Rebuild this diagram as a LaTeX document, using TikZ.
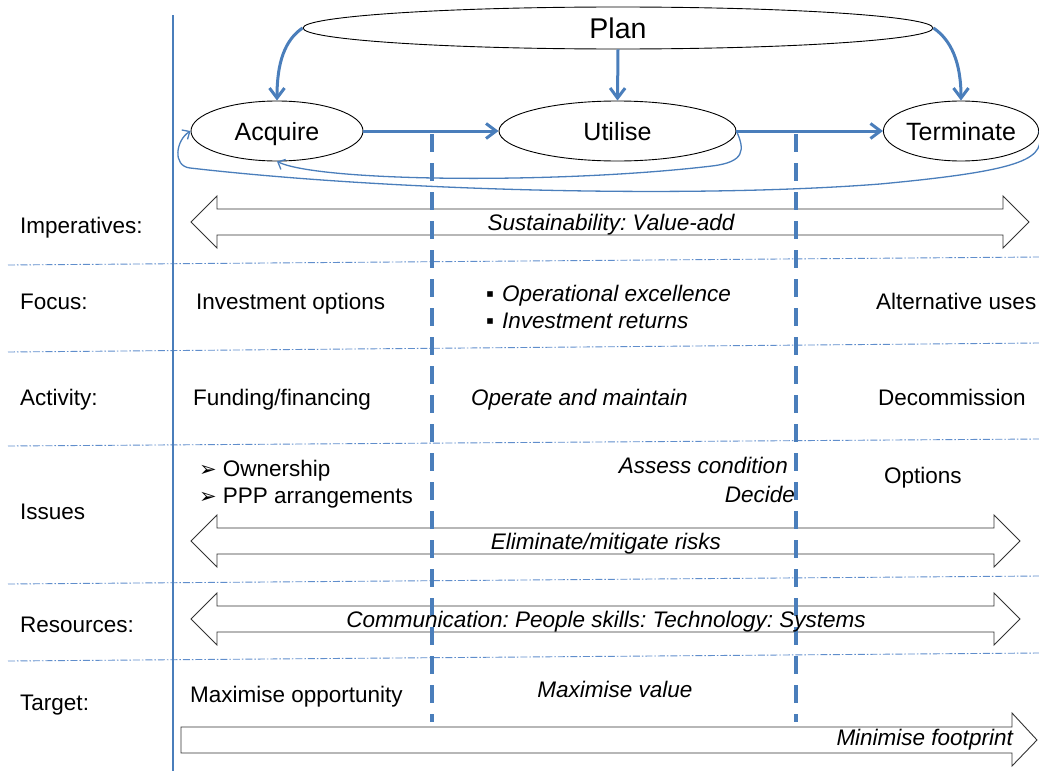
\documentclass[tikz,border=0pt]{standalone}
\usepackage{fontspec}
\setmainfont{Liberation Sans}
\newfontfamily\dingfont{DejaVu Sans}
\usetikzlibrary{arrows.meta,shapes.geometric}
\definecolor{flowblue}{RGB}{74,126,187}
\definecolor{gridblue}{RGB}{96,142,204}
\frenchspacing

\tikzset{
  phase/.style={draw=black,line width=0.9pt,ellipse,inner sep=0pt,text height=18pt,text depth=0pt,font=\fontsize{25}{30}\selectfont},
  flow/.style={draw=flowblue,line width=3pt,-{Straight Barb[length=10pt,width=15pt]}},
  back/.style={draw=flowblue,line width=1.3pt,-{Straight Barb[length=6pt,width=11pt]}},
  stage/.style={draw=flowblue,line width=3.6pt,dash pattern=on 18pt off 11pt},
  rowline/.style={draw=gridblue,line width=0.9pt,dash pattern=on 7pt off 2pt on 1.5pt off 2pt},
  margin/.style={draw=flowblue,line width=1.2pt},
  blockarrow/.style={draw=black!80,line width=0.9pt,fill=white},
  lbl/.style={inner sep=0pt,font=\fontsize{22.5}{27}\selectfont},
  ital/.style={inner sep=0pt,font=\fontsize{22.5}{27}\selectfont\itshape}
}

% two headed block arrow: left tip x, right tip x, centre y
\newcommand{\twoway}[3]{%
  \draw[blockarrow] (#1,#3) -- (#1+26,#3-26) -- (#1+26,#3-13) -- (#2-26,#3-13)
    -- (#2-26,#3-26) -- (#2,#3) -- (#2-26,#3+26) -- (#2-26,#3+13)
    -- (#1+26,#3+13) -- (#1+26,#3+26) -- cycle;}
\newcommand{\pointer}{{\dingfont\fontsize{21}{21}\selectfont ➢}\hspace{6pt}}

\begin{document}
\begin{tikzpicture}[x=1pt,y=-1pt]
\useasboundingbox (0,0) rectangle (1039,771);

\foreach \ya/\yb in {265/257,352/343,446/439,584/576,661/653}
	\draw[rowline] (8,\ya) -- (1039,\yb);
\draw[margin] (173,15) -- (173,771);

\twoway{191}{1029}{222}
\twoway{191}{1020}{541}
\twoway{191}{1020}{619}
\draw[blockarrow] (181,727) -- (1012,727) -- (1012,713) -- (1037,740)
	-- (1012,766) -- (1012,753) -- (181,753) -- cycle;

\foreach \x in {432,796}
	\draw[stage] (\x,134) -- (\x,722);

\node[phase,minimum width=630,minimum height=42,text height=20.5pt,font=\fontsize{28.5}{34}\selectfont] (plan) at (618,28) {Plan};
\node[phase,minimum width=172,minimum height=60] (acq) at (277,131) {Acquire};
\node[phase,minimum width=237,minimum height=60] (util) at (617.5,131) {Utilise};
\node[phase,minimum width=152,minimum height=60] (term) at (961,131) {Terminate};

\draw[flow] (plan.west) .. controls (285,40) and (277,62) .. (acq.north);
\draw[flow] (plan.south) -- (util.north);
\draw[flow] (plan.east) .. controls (951,40) and (961,62) .. (term.north);
\draw[flow] (acq.east) -- (util.west);
\draw[flow] (util.east) -- (term.west);

% feedback loops
\draw[back] (util.east) .. controls (745,150) and (745,162) .. (712,166)
	.. controls (560,184) and (320,182) .. (acq.south);
\draw[back] (term.east) .. controls (1045,158) and (1030,170) .. (880,184)
	.. controls (700,198) and (400,192) .. (190,168)
	.. controls (172,166) and (176,140) .. (acq.west);

\node[lbl,anchor=base west] (imp) at (20,233) {Imperatives:};
\node[lbl,anchor=base west] (foc) at (20,309) {Focus:};
\node[lbl,anchor=base west] (act) at (20,405) {Activity:};
\node[lbl,anchor=base west] (iss) at (20,519) {Issues};
\node[lbl,anchor=base west] (res) at (20,632) {Resources:};
\node[lbl,anchor=base west] (tgt) at (20,710) {Target:};

\node[ital,anchor=base] (sust) at (611,230) {Sustainability: Value-add};

\node[lbl,anchor=base west] (invopt) at (196,309) {Investment options};
\node[lbl,anchor=base west] (opex) at (486,301) {▪\hspace{8pt}\itshape Operational excellence};
\node[lbl,anchor=base west] (invret) at (486,328) {▪\hspace{8pt}\itshape Investment returns};
\node[lbl,anchor=base west] (altuse) at (876,309) {Alternative uses};

\node[lbl,anchor=base west] (fund) at (193,405) {Funding/financing};
\node[ital,anchor=base west] (opmt) at (471,405) {Operate and maintain};
\node[lbl,anchor=base west] (decom) at (878,405) {Decommission};

\node[lbl,anchor=base west] (own) at (199,476) {\pointer Ownership};
\node[lbl,anchor=base west] (ppp) at (199,503) {\pointer PPP arrangements};
\node[ital,anchor=base east] (assess) at (788,473) {Assess condition};
\node[ital,anchor=base east] (decide) at (795,502) {Decide};
\node[lbl,anchor=base west] (opts) at (884,483) {Options};
\node[ital,anchor=base] (risk) at (606,549) {Eliminate/mitigate risks};

\node[ital,anchor=base] (comm) at (606,627) {Communication: People skills: Technology: Systems};

\node[lbl,anchor=base west] (maxopp) at (190,702) {Maximise opportunity};
\node[ital,anchor=base] (maxval) at (615,697) {Maximise value};
\node[ital,anchor=base east] (minfp) at (1013,745) {Minimise footprint};
\end{tikzpicture}
\end{document}
